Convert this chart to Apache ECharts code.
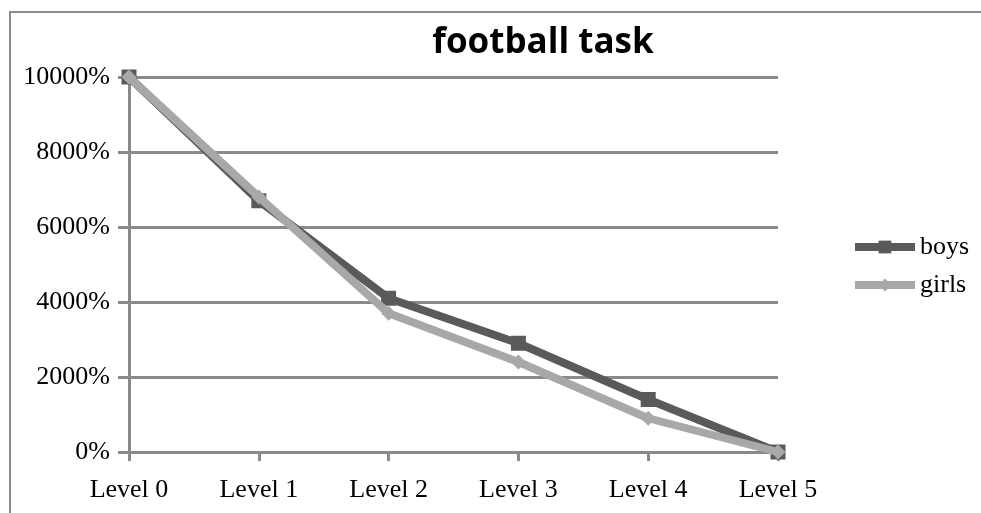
<!DOCTYPE html>
<html>
<head>
<meta charset="utf-8">
<title>football task</title>
<script src="https://cdn.jsdelivr.net/npm/echarts@6/dist/echarts.min.js"></script>
<style>
  html, body { margin: 0; padding: 0; background: #fff; }
  #chart { width: 981px; height: 513px; }
</style>
</head>
<body>
<div id="chart"></div>
<script>
// Share of pupils reaching each level in the football task
const levels = ['Level 0', 'Level 1', 'Level 2', 'Level 3', 'Level 4', 'Level 5'];
const boys = [100, 67, 41, 29, 14, 0];
const girls = [100, 68, 37, 24, 9, 0];
const yTicks = { min: 0, max: 100, step: 20 };

const serif = '"Liberation Serif", "Times New Roman", serif';
const gridGray = '#8a8a8a';
const boysColor = '#5a5a5a';
const girlsColor = '#a8a8a8';

const chart = echarts.init(document.getElementById('chart'), null, { renderer: 'canvas' });

chart.setOption({
  backgroundColor: '#ffffff',
  animation: false,
  title: {
    text: 'football task',
    left: 538,
    top: 21,
    textAlign: 'center',
    textStyle: {
      fontFamily: '"Open Sans", Lato, sans-serif',
      fontWeight: 'bold',
      fontSize: 35,
      color: '#000'
    }
  },
  graphic: [{
    type: 'rect',
    shape: { x: 10, y: 12, width: 1200, height: 800 },
    style: { fill: 'none', stroke: gridGray, lineWidth: 2 },
    silent: true,
    z: 0
  }],
  legend: {
    orient: 'vertical',
    left: 851,
    top: 234,
    padding: 0,
    itemWidth: 60,
    itemHeight: 16,
    itemGap: 12,
    lineStyle: { width: 8, cap: 'butt' },
    textStyle: { fontFamily: serif, fontSize: 26, color: '#000' },
    data: ['boys', 'girls']
  },
  grid: { left: 129, right: 203, top: 77, bottom: 61, containLabel: false },
  xAxis: {
    type: 'category',
    data: levels,
    boundaryGap: false,
    axisLine: { show: true, lineStyle: { color: gridGray, width: 3 } },
    axisTick: { show: true, alignWithLabel: true, length: 9, lineStyle: { color: gridGray, width: 3 } },
    axisLabel: { fontFamily: serif, fontSize: 26, color: '#000', margin: 25 },
    splitLine: { show: false }
  },
  yAxis: {
    type: 'value',
    min: yTicks.min,
    max: yTicks.max,
    interval: yTicks.step,
    axisLine: { show: true, lineStyle: { color: gridGray, width: 3 } },
    axisTick: { show: true, length: 11, lineStyle: { color: gridGray, width: 3 } },
    axisLabel: {
      fontFamily: serif, fontSize: 26, color: '#000', margin: 19,
      formatter: v => (v * 100) + '%'
    },
    splitLine: { show: true, lineStyle: { color: gridGray, width: 3 } }
  },
  series: [
    {
      name: 'boys',
      type: 'line',
      data: boys,
      symbol: 'rect',
      symbolSize: 15,
      color: boysColor,
      lineStyle: { width: 8, color: boysColor },
      itemStyle: { color: boysColor },
      z: 3
    },
    {
      name: 'girls',
      type: 'line',
      data: girls,
      symbol: 'diamond',
      symbolSize: 15,
      color: girlsColor,
      lineStyle: { width: 8, color: girlsColor },
      itemStyle: { color: girlsColor },
      z: 4
    }
  ]
});
</script>
</body>
</html>
